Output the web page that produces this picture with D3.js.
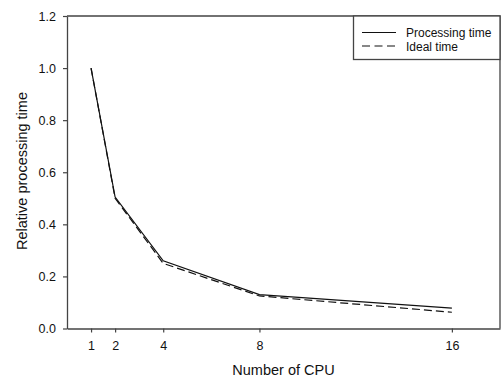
<!DOCTYPE html>
<html>
<head>
<meta charset="utf-8">
<script src="https://cdn.jsdelivr.net/npm/d3@7"></script>
<style>
  body { margin: 0; background: #fff; }
  svg { font-family: Arial, "Liberation Sans", sans-serif; }
</style>
</head>
<body>
<script>
// data
var cpus = [1, 2, 4, 8, 16];
var processingTime = [1.0, 0.505, 0.26, 0.13, 0.078];
var idealTime = [1.0, 0.5, 0.25, 0.125, 0.0625];
var yTicks = [0.0, 0.2, 0.4, 0.6, 0.8, 1.0, 1.2];
var seriesNames = ["Processing time", "Ideal time"];

var W = 501, H = 378;
var margin = {top: 16, right: 1, bottom: 49.5, left: 67};

var svg = d3.select("body").append("svg")
    .attr("width", W)
    .attr("height", H);

var x = d3.scaleLinear().domain([0, 18]).range([margin.left, W - margin.right]);
var y = d3.scaleLinear().domain([0, 1.2]).range([H - margin.bottom, margin.top]);

var axisColor = "#444";

// frame (top and right)
svg.append("path")
    .attr("d", "M" + x(0) + "," + y(1.2) + "H" + x(18) + "V" + y(0))
    .attr("fill", "none")
    .attr("stroke", axisColor)
    .attr("stroke-width", 1.3);

var xAxis = svg.append("g")
    .attr("transform", "translate(0," + y(0) + ")")
    .call(d3.axisBottom(x).tickValues(cpus).tickSize(4).tickPadding(9).tickSizeOuter(0));

var yAxis = svg.append("g")
    .attr("transform", "translate(" + x(0) + ",0)")
    .call(d3.axisLeft(y).tickValues(yTicks).tickFormat(d3.format(".1f")).tickSize(4).tickPadding(7).tickSizeOuter(0));

[xAxis, yAxis].forEach(function(a) {
  a.select(".domain").attr("stroke", axisColor).attr("stroke-width", 1.3);
  a.selectAll(".tick line").attr("stroke", axisColor).attr("stroke-width", 1.2);
  a.selectAll(".tick text")
    .attr("fill", "#111")
    .style("font-size", "12.5px")
    .style("font-family", "Arial, 'Liberation Sans', sans-serif");
});

// series
var line = d3.line()
    .x(function(d) { return x(d[0]); })
    .y(function(d) { return y(d[1]); });

svg.append("path")
    .datum(d3.zip(cpus, idealTime))
    .attr("d", line)
    .attr("fill", "none")
    .attr("stroke", "#111")
    .attr("stroke-width", 1.2)
    .attr("stroke-dasharray", "8,4");

svg.append("path")
    .datum(d3.zip(cpus, processingTime))
    .attr("d", line)
    .attr("fill", "none")
    .attr("stroke", "#111")
    .attr("stroke-width", 1.2);

// axis titles
svg.append("text")
    .attr("x", (x(0) + x(18)) / 2)
    .attr("y", 374.5)
    .attr("text-anchor", "middle")
    .style("font-size", "14.5px")
    .attr("fill", "#111")
    .text("Number of CPU");

svg.append("text")
    .attr("transform", "translate(27,171) rotate(-90)")
    .attr("text-anchor", "middle")
    .style("font-size", "14.5px")
    .attr("fill", "#111")
    .text("Relative processing time");

// legend
var legend = svg.append("g");
legend.append("rect")
    .attr("x", 353.5)
    .attr("y", y(1.2))
    .attr("width", x(18) - 353.5)
    .attr("height", 43.5)
    .attr("fill", "#fff")
    .attr("stroke", axisColor)
    .attr("stroke-width", 1.3);

var legendDash = [null, "8,4.5"];
seriesNames.forEach(function(name, i) {
  var yy = 32.5 + i * 13.5;
  legend.append("line")
      .attr("x1", 362).attr("x2", 396)
      .attr("y1", yy).attr("y2", yy)
      .attr("stroke", "#111")
      .attr("stroke-width", 1.2)
      .attr("stroke-dasharray", legendDash[i]);
  legend.append("text")
      .attr("x", 406)
      .attr("y", yy + 4.5)
      .style("font-size", "12px")
      .attr("fill", "#111")
      .text(name);
});
</script>
</body>
</html>
